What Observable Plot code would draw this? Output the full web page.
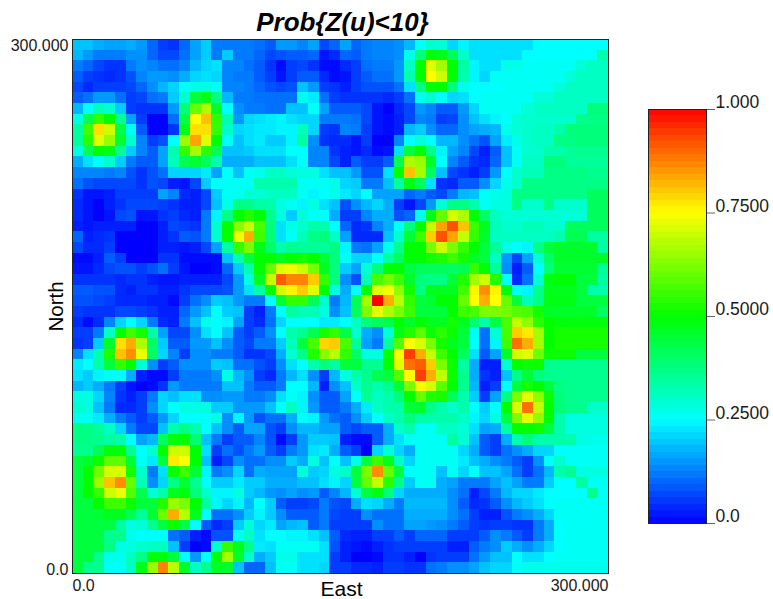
<!DOCTYPE html>
<html><head><meta charset="utf-8">
<script src="https://cdn.jsdelivr.net/npm/d3@7"></script>
<script src="https://cdn.jsdelivr.net/npm/@observablehq/plot@0.6"></script>
<style>html,body{margin:0;padding:0;background:#fff}#c{position:relative;width:773px;height:599px;overflow:hidden}#c svg{position:absolute;top:0}</style>
</head><body><div id="c"></div>
<script>
// probability in hundredths, rows from north to south, columns west to east
const gridRows = [
[19,19,17,16,16,17,15,10,6,5,10,16,20,12,12,12,12,11,9,15,15,13,16,7,10,16,10,12,13,13,14,18,25,30,29,21,24,22,22,22,22,22,22,25,25,25,25,25,25,25],
[18,15,12,12,12,14,14,10,7,7,11,16,20,12,20,12,12,10,7,8,9,9,10,2,4,10,9,12,13,13,14,27,38,50,48,41,30,22,22,22,22,22,25,25,25,25,25,25,25,33],
[12,10,7,5,5,12,14,13,11,11,13,18,21,22,13,13,11,9,5,1,6,7,5,1,1,4,6,11,12,12,15,31,50,72,66,50,34,24,22,22,27,27,26,26,26,26,26,29,31,31],
[9,6,5,4,5,8,13,15,15,14,17,21,22,21,13,12,12,9,6,2,6,9,9,4,1,2,6,9,11,11,15,33,50,75,70,50,33,24,21,26,26,26,26,26,26,26,29,31,31,31],
[7,4,6,6,6,7,10,14,18,21,26,28,28,26,13,13,12,10,8,7,8,19,15,6,5,3,6,8,8,8,11,22,38,50,50,38,27,25,25,25,26,26,26,26,26,29,31,31,31,31],
[9,11,15,15,11,6,7,11,12,20,30,44,48,37,18,12,12,11,11,11,11,27,23,11,6,5,5,5,5,4,6,11,27,30,26,21,22,25,26,26,26,26,26,29,29,31,31,31,31,31],
[18,25,32,30,20,6,5,5,5,15,38,60,67,46,25,14,12,12,11,11,19,19,25,16,9,9,9,7,2,0,4,7,15,13,9,9,15,21,26,26,26,26,29,31,31,31,31,31,38,38],
[28,42,55,50,35,16,6,0,0,11,43,75,81,55,33,15,21,22,23,24,22,21,21,12,12,12,11,7,2,1,3,7,13,12,6,7,14,19,22,24,25,29,30,30,30,30,30,36,37,37],
[34,56,78,70,43,26,9,0,0,5,47,78,78,55,31,21,22,23,23,24,24,32,21,6,5,13,12,6,2,1,3,18,20,14,10,10,14,16,17,18,27,29,30,31,31,33,38,38,38,38],
[35,54,72,65,45,30,13,6,8,25,65,84,72,50,26,19,22,23,20,20,24,34,14,5,4,4,2,6,0,0,13,25,29,25,18,18,14,11,8,16,23,27,30,31,31,37,37,38,38,38],
[28,42,50,48,36,20,13,9,16,33,55,66,54,42,19,19,20,22,22,22,25,25,13,13,5,3,2,4,1,2,22,44,50,37,24,16,13,7,3,9,19,26,30,30,33,33,35,36,36,36],
[17,22,26,30,20,12,9,9,16,32,42,45,41,33,17,17,17,19,19,19,22,25,13,13,7,3,9,6,6,9,42,67,65,46,25,13,9,5,4,10,19,26,31,31,38,38,35,35,35,35],
[13,13,13,12,13,8,5,8,11,21,21,21,23,16,25,19,26,27,31,31,29,28,28,22,19,19,15,8,8,22,50,81,66,41,19,7,5,3,6,15,25,30,32,32,37,37,37,37,36,36],
[11,8,7,7,7,7,5,8,7,3,2,7,20,25,26,26,26,33,33,33,33,26,26,26,27,21,20,12,12,19,34,48,41,22,5,4,9,9,14,21,27,30,37,37,37,37,37,37,37,37],
[5,2,2,3,6,6,6,6,16,13,4,3,7,20,26,26,29,29,31,31,31,26,24,25,27,23,21,25,16,16,16,10,12,9,7,12,18,19,26,27,28,37,37,37,37,37,37,37,41,41],
[4,2,0,3,5,7,7,7,6,5,3,3,7,19,27,37,37,34,33,28,26,24,28,22,19,8,14,18,21,17,6,2,7,15,29,37,37,33,26,28,28,37,30,30,37,30,30,30,41,41],
[4,2,0,2,7,8,2,2,5,6,4,3,12,24,37,50,53,50,36,28,20,29,26,25,17,6,6,13,17,17,8,10,27,48,60,71,67,50,40,31,29,29,29,29,29,29,29,29,41,41],
[3,2,3,3,3,3,0,0,3,7,6,5,12,30,50,63,69,57,38,22,27,30,33,33,25,10,4,5,13,17,26,38,50,69,84,92,81,56,47,32,30,30,32,32,30,30,41,41,41,41],
[10,3,4,5,0,0,0,0,3,5,9,8,12,30,50,73,83,56,38,22,26,32,37,38,31,16,4,4,4,19,30,45,56,80,92,84,69,55,46,31,31,31,31,31,31,33,42,42,34,34],
[7,4,4,6,0,0,0,0,3,3,2,3,7,16,34,55,62,48,40,33,36,35,35,35,38,24,12,11,16,27,36,50,50,62,70,62,55,50,44,35,27,25,24,37,44,46,46,46,46,34],
[1,1,3,9,6,0,0,0,5,5,1,1,1,1,19,33,44,50,50,47,50,52,50,45,38,26,21,21,25,34,40,50,50,52,53,56,52,46,44,31,15,7,16,30,40,46,46,46,46,47],
[2,2,4,7,8,8,6,8,11,6,2,0,0,1,10,20,33,50,60,72,73,70,62,47,38,20,16,29,38,50,50,44,41,41,41,40,42,55,50,35,14,3,9,25,38,45,45,45,45,35],
[5,5,5,5,4,5,5,3,2,2,3,3,3,3,7,15,28,47,69,91,87,87,80,55,38,14,8,32,57,61,56,46,38,37,37,45,53,66,70,53,25,4,11,29,48,50,50,44,44,34],
[9,9,8,8,4,3,5,5,3,3,5,7,7,7,8,15,22,33,50,70,76,80,72,50,28,17,25,50,72,74,64,52,37,47,47,47,56,76,86,76,49,26,24,36,47,47,47,44,33,33],
[8,8,7,6,4,4,4,3,3,1,6,11,14,20,19,15,12,12,25,45,55,55,42,30,12,18,42,66,100,83,68,55,44,45,50,50,60,75,83,75,60,44,32,37,48,48,48,44,44,44],
[6,5,5,5,7,7,6,5,3,3,10,15,19,25,20,19,6,3,12,25,34,32,32,28,14,19,41,62,72,67,62,56,44,44,44,50,56,57,62,62,61,58,57,52,46,46,46,46,46,41],
[4,1,4,13,21,25,21,12,4,3,12,19,27,25,24,16,6,4,11,21,25,25,25,23,23,25,31,38,41,43,50,46,50,47,47,52,47,39,33,43,57,69,64,54,50,49,49,49,49,49],
[6,6,12,31,50,56,52,34,16,7,7,14,22,25,19,9,6,9,14,25,33,36,42,52,55,43,29,17,14,29,48,53,59,51,54,51,44,26,11,29,57,80,77,66,50,52,52,52,52,52],
[5,6,20,46,78,83,67,40,20,9,9,15,15,19,14,9,7,12,12,20,32,44,57,79,80,57,35,16,12,35,58,75,71,62,52,47,44,25,11,24,56,89,83,66,50,52,52,52,52,52],
[13,22,33,53,81,86,73,40,21,13,6,14,14,12,12,9,5,5,7,17,30,37,53,63,68,55,40,28,28,51,74,94,83,69,56,50,41,22,9,16,46,70,72,61,51,51,51,44,44,44],
[23,25,33,44,55,50,29,14,6,9,14,14,14,20,19,11,11,8,6,14,22,25,33,38,34,44,44,36,36,50,72,89,91,80,62,51,34,17,3,3,30,50,51,51,36,36,36,36,36,36],
[22,20,24,26,26,17,3,1,1,6,12,12,12,14,28,18,14,6,4,12,18,22,14,6,18,28,33,36,42,44,58,75,94,83,69,51,36,17,5,3,19,37,45,38,36,36,36,36,36,36],
[18,20,17,12,6,2,0,1,5,15,12,12,12,12,19,19,12,9,9,12,25,25,18,3,14,19,30,36,33,36,45,62,74,71,59,50,36,18,3,6,25,44,52,50,44,37,36,36,36,36],
[28,28,21,13,5,3,6,12,21,19,22,22,14,14,15,15,12,12,14,22,26,24,14,9,9,16,25,36,31,33,38,50,60,53,52,41,33,20,6,16,38,62,72,64,51,38,36,36,36,36],
[30,28,19,12,4,4,6,14,21,25,28,28,28,20,20,15,15,15,19,25,31,24,15,9,9,12,17,23,31,33,33,44,46,37,33,30,33,25,20,25,50,71,89,69,50,38,36,36,30,30],
[26,26,23,17,12,9,6,9,15,21,25,25,25,28,14,24,15,8,11,11,17,25,24,15,11,9,14,20,25,31,33,38,33,33,33,33,31,24,21,28,44,62,72,64,50,33,28,28,28,28],
[37,37,35,31,21,12,7,7,19,33,37,33,25,19,14,9,16,16,8,6,14,18,18,16,16,9,7,9,9,17,30,33,26,26,31,31,29,22,16,17,34,50,50,51,44,33,28,28,28,28],
[37,37,36,34,33,25,16,18,41,49,50,39,19,12,6,9,9,13,8,1,6,15,20,20,19,3,1,1,9,17,22,26,26,26,26,34,29,19,9,6,17,33,38,33,33,33,33,28,27,27],
[36,36,42,49,49,36,25,30,50,70,70,50,22,6,11,8,12,15,9,6,12,15,22,23,17,9,6,0,21,29,21,17,26,26,26,26,21,17,9,6,11,14,17,21,21,25,26,26,26,26],
[44,46,51,59,59,45,26,23,44,77,75,50,19,3,7,14,11,11,14,14,20,17,28,19,25,19,27,44,56,47,31,21,26,26,26,26,23,19,17,14,12,9,6,14,25,30,26,26,26,26],
[44,50,61,71,71,52,30,12,22,51,56,45,24,12,14,21,11,17,16,16,16,29,20,21,28,30,44,62,86,60,44,25,26,26,19,26,21,25,19,19,16,11,6,11,18,33,36,28,28,28],
[44,50,65,81,86,60,32,14,21,37,45,36,25,20,20,23,20,20,17,17,17,19,19,22,24,21,44,60,69,54,37,20,26,26,17,16,12,12,12,16,19,16,12,12,20,25,25,34,26,26],
[44,50,55,70,73,58,42,29,33,47,49,38,30,24,24,28,20,18,15,14,16,14,15,9,13,18,30,44,48,38,21,17,17,17,17,14,11,3,7,12,18,21,21,23,25,25,25,25,36,26],
[44,44,50,56,56,51,44,44,53,65,62,50,34,24,21,24,18,25,20,9,6,6,7,12,8,7,17,22,21,17,12,18,18,18,18,14,9,4,5,9,14,18,20,22,25,26,26,26,26,26],
[44,44,45,47,47,42,35,45,61,83,68,47,25,11,11,14,20,24,20,14,9,9,9,12,7,6,6,14,11,11,11,17,17,17,17,14,11,6,3,3,8,12,14,17,21,26,26,26,26,26],
[44,44,44,44,34,28,29,36,44,51,43,25,9,4,6,20,29,21,23,16,18,19,9,12,6,6,6,6,14,11,11,16,16,15,14,12,9,6,5,6,6,5,5,12,17,25,26,26,26,26],
[44,44,44,36,36,27,25,25,25,11,9,3,1,8,8,26,31,22,25,25,24,24,22,19,9,4,3,3,6,6,9,6,10,10,10,6,6,6,9,14,12,9,6,12,17,25,26,26,26,26],
[44,44,44,37,28,28,30,31,31,19,6,0,1,30,55,47,37,23,22,26,26,26,26,22,8,3,2,1,3,5,6,6,6,6,6,3,3,9,12,14,20,17,14,17,21,25,26,26,26,26],
[44,44,36,27,27,31,37,49,49,44,25,15,25,49,66,46,30,17,20,27,27,22,22,22,6,3,0,0,1,5,5,3,0,5,6,6,6,11,15,19,19,25,22,22,25,26,26,26,26,26],
[44,36,36,26,26,31,48,65,87,68,46,31,36,46,46,19,10,10,19,26,26,22,22,21,6,6,4,4,3,6,6,5,5,11,12,14,14,16,19,21,21,26,27,27,27,27,27,27,27,27]
];
const cellSize = 6;
const extent = [0, 300];
const axisLabels = {0: "0.0", 300: "300.000"};
const barTicks = [0, 25, 50, 75, 100];
const barLabels = {0: "0.0", 25: "0.2500", 50: "0.5000", 75: "0.7500", 100: "1.000"};
const colorStops = ["#0000ff", "#00ffff", "#00ff00", "#ffff00", "#ff0000"];
const barLevels = d3.range(0, 100, 100 / 64);

const font = "'Liberation Sans', Arial, sans-serif";
const ink = "#1a1a1a";
const color = {type: "linear", domain: barTicks, range: colorStops, interpolate: "rgb", clamp: true};
const cells = gridRows.flatMap((row, r) => row.map((v, c) => ({r, c, v})));

const main = Plot.plot({
  width: 640, height: 599,
  marginLeft: 72, marginRight: 32, marginTop: 39, marginBottom: 26,
  style: {fontFamily: font, background: "transparent", overflow: "visible", left: "0"},
  x: {domain: extent}, y: {domain: extent}, color,
  marks: [
    Plot.rect(cells, {
      x1: d => d.c * cellSize, x2: d => (d.c + 1) * cellSize,
      y1: d => extent[1] - d.r * cellSize, y2: d => extent[1] - (d.r + 1) * cellSize,
      fill: "v", shapeRendering: "crispEdges"
    }),
    Plot.frame({stroke: "#222", strokeWidth: 1}),
    Plot.axisX([0], {tickSize: 0, tickFormat: d => axisLabels[d], textAnchor: "start", fontSize: 16, fill: ink, tickPadding: 6, label: null}),
    Plot.axisX([300], {tickSize: 0, tickFormat: d => axisLabels[d], textAnchor: "end", fontSize: 16, fill: ink, tickPadding: 6, label: null}),
    Plot.axisY([0], {tickSize: 0, tickFormat: d => axisLabels[d], lineAnchor: "bottom", dy: 1, fontSize: 16, fill: ink, tickPadding: 4, label: null}),
    Plot.axisY([300], {tickSize: 0, tickFormat: d => axisLabels[d], lineAnchor: "top", fontSize: 16, fill: ink, tickPadding: 4, label: null}),
    Plot.text(["Prob{Z(u)<10}"], {frameAnchor: "top", dx: 2, dy: -27, lineAnchor: "top", fontSize: 26, fontWeight: "bold", fontStyle: "italic", fill: "#000"}),
    Plot.text(["East"], {frameAnchor: "bottom", dx: 1, dy: 8, lineAnchor: "top", fontSize: 21, fill: "#000"}),
    Plot.text(["North"], {frameAnchor: "left", textAnchor: "middle", dx: -16, rotate: -90, fontSize: 20.5, fill: "#000"})
  ]
});

const bar = Plot.plot({
  width: 133, height: 599,
  marginLeft: 8, marginRight: 67, marginTop: 109, marginBottom: 76,
  style: {fontFamily: font, background: "transparent", overflow: "visible", left: "640px"},
  x: {axis: null, domain: [0, 1]}, y: {domain: [0, 100]}, color,
  marks: [
    Plot.rect(barLevels, {
      x1: 0, x2: 1,
      y1: d => d, y2: d => d + 100 / 64,
      fill: d => d + 50 / 64, shapeRendering: "crispEdges"
    }),
    Plot.frame({stroke: "#222", strokeWidth: 1}),
    Plot.axisY(barTicks, {anchor: "right", tickSize: 8, stroke: "#666", tickFormat: () => "", label: null}),
    Plot.axisY(barTicks, {anchor: "right", tickSize: 0, tickPadding: 9, dy: -7, tickFormat: d => barLabels[d], fontSize: 17.5, fill: ink, label: null})
  ]
});

const c = document.getElementById("c");
c.append(main, bar);
</script></body></html>
